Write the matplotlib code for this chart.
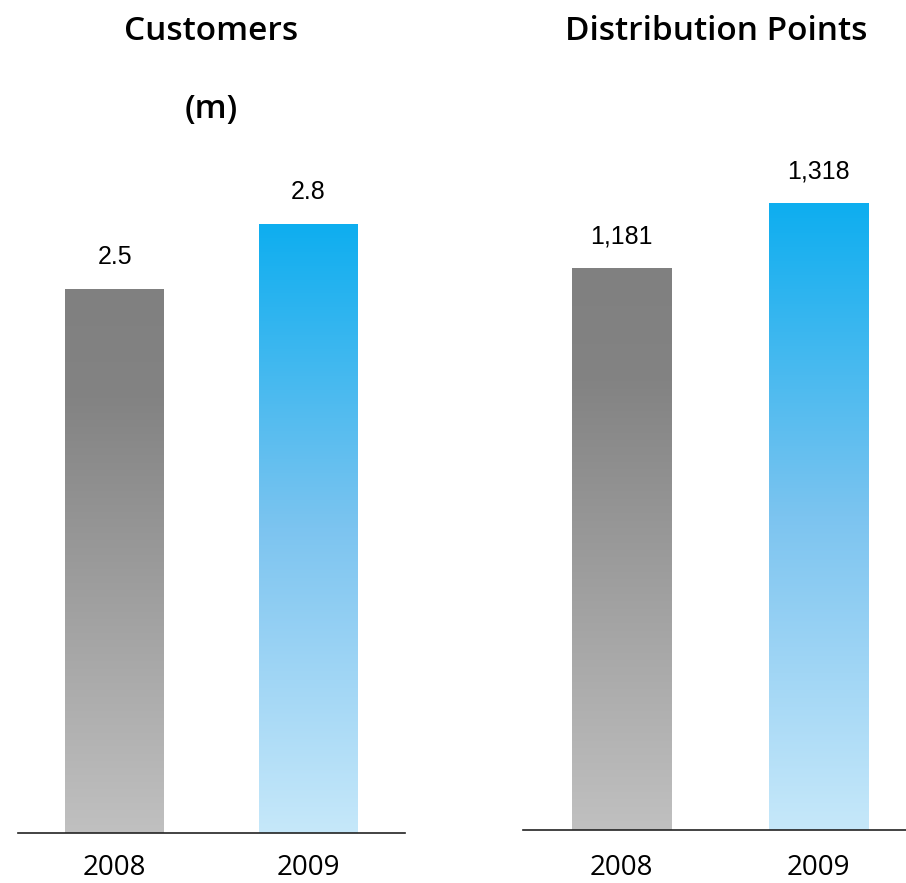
import numpy as np
import matplotlib
matplotlib.use("Agg")
import matplotlib.pyplot as plt
from matplotlib.colors import LinearSegmentedColormap

years = ["2008", "2009"]
customers = [2.5, 2.8]
customer_labels = ["2.5", "2.8"]
points = [1181, 1318]
point_labels = ["1,181", "1,318"]

gray_cmap = LinearSegmentedColormap.from_list(
    "g", [(0.0, "#c0c0c0"), (0.8, "#838383"), (1.0, "#808080")])
blue_cmap = LinearSegmentedColormap.from_list(
    "b", [(0.0, "#c6e8fa"), (0.5, "#7cc4f0"), (1.0, "#0eaeef")])

W, H = 906, 883
fig = plt.figure(figsize=(W / 100, H / 100), dpi=100)


def px_axes(x0, x1, y_top, y_bot):
    return fig.add_axes([x0 / W, 1 - y_bot / H, (x1 - x0) / W, (y_bot - y_top) / H])


def gradient_bars(ax, vals, labels, width):
    bars = ax.bar(range(len(vals)), vals, width=width, color="none", edgecolor="none")
    grad = np.linspace(0, 1, 256).reshape(-1, 1)
    for bar, cmap, lab in zip(bars, [gray_cmap, blue_cmap], labels):
        x, y = bar.get_x(), bar.get_y()
        w, h = bar.get_width(), bar.get_height()
        im = ax.imshow(grad, cmap=cmap, aspect="auto", origin="lower",
                       extent=[x, x + w, y, y + h], zorder=2)
        im.set_clip_path(bar)
        ax.annotate(lab, (x + w / 2, h), xytext=(0, 23), textcoords="offset points",
                    ha="center", va="center", fontsize=18, family="Liberation Sans")


def style(ax, pad):
    for s in ["top", "right", "left"]:
        ax.spines[s].set_visible(False)
    ax.spines["bottom"].set_color("#222222")
    ax.spines["bottom"].set_linewidth(1.2)
    ax.set_yticks([])
    ax.set_xticks([0, 1])
    ax.set_xticklabels(years, fontsize=20, family="Open Sans", va="center")
    ax.tick_params(axis="x", length=0, pad=pad)


title_kw = dict(ha="center", va="center", fontsize=24, family="Open Sans",
                fontweight="semibold")

# left panel: customers
ax1 = px_axes(18, 405, 150, 833)
ax1.set_xlim(-0.5, 1.5)
ax1.set_ylim(0, 683 / 217.6)
gradient_bars(ax1, customers, customer_labels, 0.51)
style(ax1, 25.5)
fig.text(211 / W, 1 - 31 / H, "Customers", **title_kw)
fig.text(211 / W, 1 - 110 / H, "(m)", **title_kw)

# right panel: distribution points
ax2 = px_axes(523, 906, 150, 830)
ax2.set_xlim(-0.5, 1.444)
ax2.set_ylim(0, 680 / 0.4755)
gradient_bars(ax2, points, point_labels, 0.503)
style(ax2, 27.5)
fig.text(716 / W, 1 - 31 / H, "Distribution Points", **title_kw)

fig.savefig("out.png", dpi=100)
